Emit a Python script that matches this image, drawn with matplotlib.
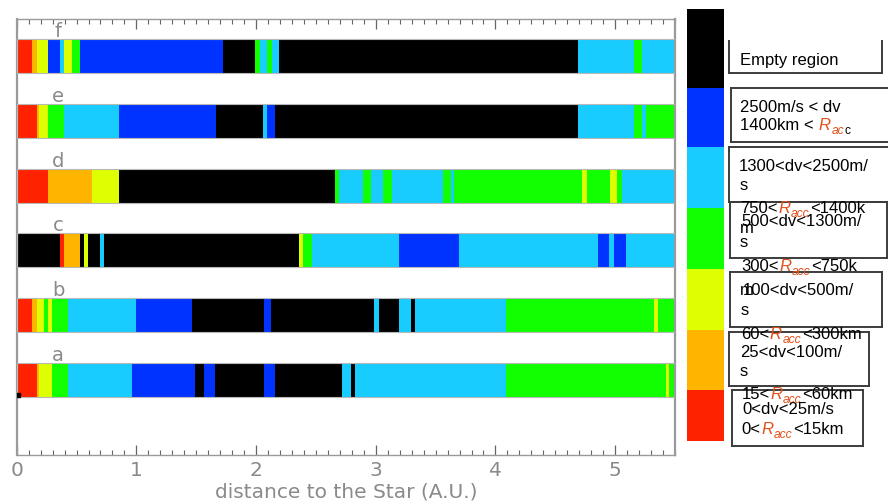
import matplotlib
matplotlib.use('Agg')
import matplotlib.pyplot as plt
from matplotlib.patches import Rectangle
from matplotlib.lines import Line2D
from matplotlib.ticker import MultipleLocator
import numpy as np

W, H, DPI = 888, 504, 100

# ---------------- data ----------------
PALETTE = {'K': '#000000', 'B': '#0033FF', 'L': '#18CCFF', 'G': '#11FF00',
           'Y': '#DDFF00', 'O': '#FFB400', 'R': '#FF2200'}

row_labels = ['a', 'b', 'c', 'd', 'e', 'f']

row_a_edges = [0, 0.167, 0.189, 0.292, 0.431, 0.963, 1.49, 1.565, 1.66, 2.066, 2.16,
               2.72, 2.793, 2.826, 4.088, 5.424, 5.452, 5.5]
row_a_colors = 'ROYGLBKBKBKLKLGYG'

row_b_edges = [0, 0.13, 0.167, 0.231, 0.259, 0.292, 0.431, 0.997, 1.467, 2.066, 2.127,
               2.988, 3.029, 3.194, 3.294, 3.328, 4.088, 5.324, 5.355, 5.5]
row_b_colors = 'ROYGYGLBKBKLKLKLGYG'

row_c_edges = [0, 0.362, 0.398, 0.529, 0.565, 0.598, 0.696, 0.729, 2.361, 2.394, 2.464,
               3.194, 3.695, 4.854, 4.951, 4.993, 5.088, 5.5]
row_c_colors = 'KROKYKLKYGLBLBLBL'

row_d_edges = [0, 0.264, 0.627, 0.857, 2.659, 2.695, 2.896, 2.96, 3.063, 3.133, 3.564,
               3.626, 3.653, 4.72, 4.762, 4.957, 5.018, 5.059, 5.5]
row_d_colors = 'ROYKGLGLGLGLGYGYGL'

row_e_edges = [0, 0.167, 0.189, 0.264, 0.398, 0.857, 1.665, 2.06, 2.095, 2.16, 4.686,
               5.157, 5.224, 5.257, 5.5]
row_e_colors = 'ROYGLBKLBKLGLG'

row_f_edges = [0, 0.13, 0.167, 0.264, 0.362, 0.398, 0.459, 0.529, 1.721, 1.991, 2.03,
               2.094, 2.13, 2.194, 4.686, 5.157, 5.224, 5.5]
row_f_colors = 'ROYBLYGBKGLGLKLGL'

rows_edges = [row_a_edges, row_b_edges, row_c_edges, row_d_edges, row_e_edges, row_f_edges]
rows_colors = [row_a_colors, row_b_colors, row_c_colors, row_d_colors, row_e_colors, row_f_colors]

dot_x = [0.012]
dot_y = [-0.235]

x_ticks = [0, 1, 2, 3, 4, 5]
x_label = 'distance to the Star (A.U.)'

legend_codes = 'KBLGYOR'

# ---------------- layout ----------------
fig = plt.figure(figsize=(W / DPI, H / DPI), dpi=DPI)
fig.patch.set_facecolor('white')

AX_L, AX_R, AX_T, AX_B = 16.7, 675, 19, 455
ax = fig.add_axes([AX_L / W, 1 - AX_B / H, (AX_R - AX_L) / W, (AX_B - AX_T) / H])

GRAY_TXT = '#8a8a8a'
BAR_H = 0.525
for i, (edges, cols) in enumerate(zip(rows_edges, rows_colors)):
    e = np.array(edges)
    ax.barh(i, np.diff(e), left=e[:-1], height=BAR_H,
            color=[PALETTE[c] for c in cols], linewidth=0, zorder=2)
    ax.add_patch(Rectangle((e[0], i - BAR_H / 2), e[-1] - e[0], BAR_H, fill=False,
                           edgecolor='#b8b8b8', linewidth=0.8, zorder=3))
    ax.text(0.345, i + BAR_H / 2 + 0.03, row_labels[i], ha='center', va='baseline',
            fontsize=14, color=GRAY_TXT, zorder=4)

ax.plot(dot_x, dot_y, 's', ms=2.2, color='k', zorder=5)

ax.set_xlim(0, 5.5)
ax.set_ylim(-1.157, 5.571)
ax.set_yticks([])
ax.set_xticks(x_ticks)
ax.xaxis.set_minor_locator(MultipleLocator(0.1))
ax.tick_params(axis='x', which='both', direction='in', top=True, bottom=True,
               color='#666666', labelcolor=GRAY_TXT, labelsize=14.5, pad=4)
ax.tick_params(axis='x', which='major', length=7, width=0.9)
ax.tick_params(axis='x', which='minor', length=3.5, width=0.8)
for s in ax.spines.values():
    s.set_color('#9a9a9a')
    s.set_linewidth(1.0)
ax.spines['left'].set_linewidth(1.6)
ax.spines['right'].set_linewidth(1.6)
ax.set_xlabel(x_label, fontsize=14.5, color=GRAY_TXT, labelpad=2)

# legend colour column
LEG_EDGES_PX = [9, 88, 147, 208, 269, 330, 390, 441]
cax = fig.add_axes([687 / W, 1 - 441 / H, 37 / W, (441 - 9) / H])
le = np.array(LEG_EDGES_PX)
cax.bar(0.5, np.diff(le), bottom=le[:-1], width=1.0,
        color=[PALETTE[c] for c in legend_codes], linewidth=0)
cax.set_xlim(0, 1)
cax.set_ylim(441, 9)
cax.axis('off')

# ---------------- legend boxes ----------------
def fx(x):
    return x / W

def fy(y):
    return 1 - y / H

BOX_EC = '#3c3c3c'
boxes = [
    (729, 41, 882, 73, False),
    (731, 88, 895, 142, True),
    (729, 147, 895, 202, True),
    (730, 202, 887, 258, True),
    (730, 272, 882, 327, True),
    (729, 332, 869, 386, True),
    (732, 390, 863, 446, True),
]
for (x0, y0, x1, y1, top) in boxes:
    fig.add_artist(Rectangle((fx(x0), fy(y1)), fx(x1) - fx(x0), fy(y0) - fy(y1),
                             transform=fig.transFigure, facecolor='white',
                             edgecolor='none', zorder=1))
    segs = [([x0, x0], [y0, y1]), ([x1, x1], [y0, y1]), ([x0, x1], [y1, y1])]
    if top:
        segs.append(([x0, x1], [y0, y0]))
    for xs, ys in segs:
        fig.add_artist(Line2D([fx(v) for v in xs], [fy(v) for v in ys],
                              transform=fig.transFigure, color=BOX_EC,
                              linewidth=1.4, zorder=1.5))

fig.canvas.draw()
rend = fig.canvas.get_renderer()
ORANGE = '#E2501A'
FS = 12
FAM = 'Liberation Sans'


def rich(x, base, parts):
    cx = x
    for s, kind in parts:
        if kind == 'gap':
            cx += s
            continue
        kw = dict(fontsize=FS, color='black', family=FAM)
        dy = 0
        if kind == 'R':
            kw.update(color=ORANGE, style='italic')
        elif kind == 'sub':
            kw.update(color=ORANGE, style='italic', fontsize=FS * 0.72)
            dy = 4
        elif kind == 'subk':
            kw.update(fontsize=FS * 0.72)
            dy = 4
        t = fig.text(fx(cx), fy(base + dy), s, ha='left', va='baseline', zorder=3, **kw)
        cx += t.get_window_extent(rend).width + 0.6


def racc_line(x, base, a, b):
    rich(x, base, [(a, 'n'), ('R', 'R'), ('acc', 'sub'), (b, 'n')])


rich(740, 65, [('Empty region', 'n')])
rich(740.5, 112, [('2500m/s < dv', 'n')])
rich(740.5, 130, [('1400km <', 'n'), (4.0, 'gap'), ('R', 'R'), ('ac', 'sub'), ('c', 'subk')])
rich(739, 171, [('1300<dv<2500m/', 'n')])
rich(740, 190, [('s', 'n')])
racc_line(740, 213, '750<', '<1400k')
rich(741.5, 226, [('500<dv<1300m/', 'n')])
rich(740, 233, [('m', 'n')])
rich(740, 247, [('s', 'n')])
racc_line(741, 271, '300<', '<750k')
rich(740, 295, [('m', 'n')])
rich(742.5, 295, [('100<dv<500m/', 'n')])
rich(741, 315, [('s', 'n')])
racc_line(741, 339, '60<', '<300km')
rich(740, 357, [('25<dv<100m/', 'n')])
rich(740, 376, [('s', 'n')])
racc_line(741.5, 399, '15<', '<60km')
rich(742.5, 414, [('0<dv<25m/s', 'n')])
racc_line(741.5, 434, '0<', '<15km')

fig.savefig('out.png', dpi=DPI)
